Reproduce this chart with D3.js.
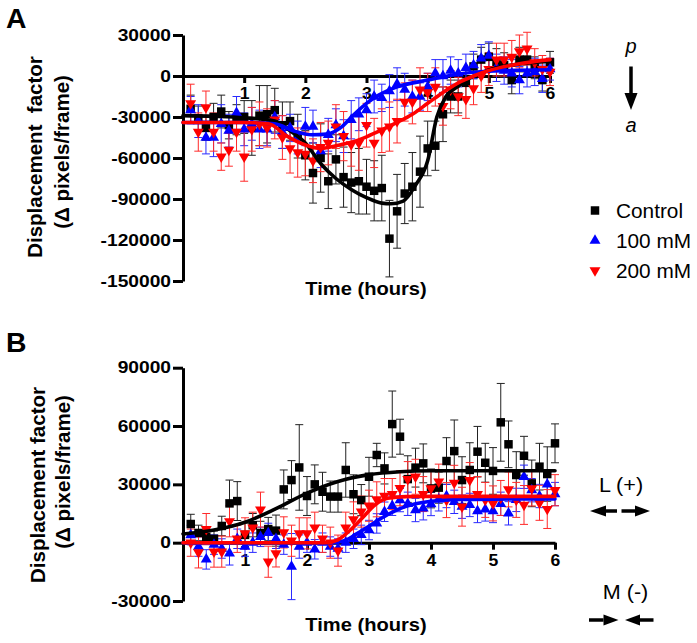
<!DOCTYPE html>
<html><head><meta charset="utf-8">
<script src="https://cdn.jsdelivr.net/npm/d3@7"></script>
<style>body{margin:0;background:#fff}svg{display:block}</style>
</head><body>
<svg id="c" width="697" height="643"></svg>
<script>
// ---------------- data ----------------
const hours = [0.125,0.25,0.375,0.5,0.625,0.75,0.875,1,1.125,1.25,1.375,1.5,1.625,1.75,1.875,2,2.125,2.25,2.375,2.5,2.625,2.75,2.875,3,3.125,3.25,3.375,3.5,3.625,3.75,3.875,4,4.125,4.25,4.375,4.5,4.625,4.75,4.875,5,5.125,5.25,5.375,5.5,5.625,5.75,5.875,6];
const xTicks = [1,2,3,4,5,6];
const yTicksA = [30000,0,-30000,-60000,-90000,-120000,-150000];
const yTicksB = [90000,60000,30000,0,-30000];
const seriesNames = ["Control","100 mM","200 mM"];

// Panel A (p/a displacement)
const aControl = [-24000,-31000,-38000,-30000,-26000,-36000,-32000,-30000,-38000,-29000,-28000,-25000,-36000,-33000,-44000,-58000,-71000,-60000,-77000,-61000,-74000,-78000,-77000,-81000,-84000,-82000,-119000,-99000,-86000,-81000,-70000,-53000,-51000,-28000,-15000,-15000,-5000,7000,12000,14000,10000,8000,-3000,12000,12000,6000,-3000,10000];
const aControlErr = [10000,9000,9000,10000,12000,10000,11000,12000,20000,22000,21000,16000,17000,14000,16000,18000,22000,25000,20000,18000,22000,22000,24000,20000,22000,24000,28000,27000,22000,25000,26000,20000,18000,20000,12000,12000,10000,9000,9000,10000,10000,9000,10000,9000,9000,8000,8000,8000];
const a100 = [-25000,-33000,-45000,-45000,-35000,-40000,-27000,-39000,-35000,-39000,-39000,-30000,-41000,-38000,-45000,-37000,-37000,-55000,-43000,-36000,-44000,-32000,-28000,-25000,-15000,-16000,-11000,-6000,-10000,-15000,-15000,-8000,2000,0,4000,2000,6000,8000,13000,15000,6000,4000,2000,-3000,2000,3000,-2000,5000];
const a100Err = [10000,12000,12000,14000,14000,12000,12000,12000,12000,14000,12000,12000,12000,10000,12000,14000,12000,12000,12000,12000,12000,14000,12000,12000,12000,10000,12000,12000,12000,12000,10000,10000,10000,12000,10000,10000,10000,10000,10000,10000,10000,10000,10000,10000,10000,10000,10000,8000];
const a200 = [-20000,-41000,-23000,-41000,-59000,-54000,-41000,-59000,-39000,-35000,-38000,-32000,-45000,-53000,-56000,-57000,-62000,-52000,-49000,-37000,-44000,-50000,-49000,-36000,-49000,-40000,-37000,-33000,-19000,-19000,-10000,-12000,-8000,-22000,-10000,-15000,-17000,-9000,0,5000,12000,12000,14000,18000,20000,10000,5000,3000];
const a200Err = [14000,14000,12000,14000,10000,12000,14000,18000,16000,16000,14000,14000,16000,18000,18000,16000,16000,18000,16000,16000,18000,16000,20000,16000,18000,16000,18000,16000,14000,16000,16000,14000,14000,14000,14000,14000,14000,12000,12000,12000,12000,12000,12000,12000,12000,10000,10000,10000];

// fitted curves, panel A
const aFitControlT = [0,0.5,1,1.5,1.75,2,2.25,2.5,2.75,3,3.25,3.4,3.6,3.8,4,4.15,4.3,4.5,4.75,5,5.5,6];
const aFitControlV = [-29000,-29500,-30500,-33000,-40000,-49000,-64000,-75000,-83000,-89000,-93000,-93500,-91500,-80000,-62000,-30000,-15000,-7500,0,4500,8800,10700];
const aFit100T = [0,1,1.5,1.8,2.1,2.35,2.6,2.8,3,3.2,3.5,4,4.5,5,6];
const aFit100V = [-34000,-34000,-35000,-40000,-43000,-42500,-37000,-28000,-20000,-14000,-8000,-3000,1500,3500,4600];
const aFit200T = [0,1,1.4,1.7,2,2.25,2.5,2.75,3,3.25,3.5,3.75,4,4.25,4.5,4.75,5,5.5,6];
const aFit200V = [-34000,-34000,-35000,-44000,-50500,-53000,-51000,-48500,-44500,-39500,-34000,-28000,-20000,-12000,-5000,0,4000,9000,12000];

// Panel B (L/M displacement)
const bControl = [9600,5000,3000,2000,8600,20200,21400,4000,9000,5000,7000,6200,27400,32200,38700,24000,30000,26200,23700,23700,37400,24900,21900,33900,45100,38200,61000,54500,32700,38600,40800,27900,28300,42000,47100,32200,37400,46800,41100,36900,61900,50600,34800,44700,30500,39100,35300,51100];
const bControlErr = [5000,4000,4000,4000,5000,12000,10000,6000,6000,6000,6000,8000,10000,10000,22000,10000,10000,10000,8000,8000,14000,10000,8000,10000,6000,8000,17000,9000,12000,10000,10000,10000,8000,12000,16000,12000,14000,13000,10000,12000,20000,12000,12000,10000,12000,12000,14000,10000];
const b100 = [3900,-2000,-8600,-1000,-3000,-5500,2000,-2000,0,3000,5000,2000,-1000,-12300,-2000,0,-3400,0,-2000,-3000,0,2000,4000,6500,9900,15900,19000,21900,20000,16800,17700,19900,22300,24000,21000,18500,19400,16300,17100,16300,20000,15100,22000,33900,27000,24000,30000,25000];
const b100Err = [5000,5000,5000,5000,5000,6000,5000,5000,5000,5000,5000,5000,5000,17000,6000,5000,5000,5000,5000,5000,5000,5000,5000,5000,5000,5000,5000,6000,6000,6000,6000,6000,6000,6000,6000,6000,6000,6000,6000,6000,6000,6000,6000,6000,6000,6000,6000,6000];
const b200 = [0,-5000,7000,-4600,-4600,11000,2000,4800,7700,17000,-9800,-5500,5300,1000,4800,4800,7700,2000,0,-4100,7700,12000,16000,19000,22300,24000,25000,28000,32700,33900,25000,27900,31400,21900,30800,18500,32200,25000,22000,20200,23000,27400,22000,19400,27900,20500,17300,27000];
const b200Err = [7000,8000,8000,8000,8000,8000,7000,8000,8000,9000,8000,7000,8000,8000,8000,8000,8000,7000,8000,8000,8000,9000,8000,8000,9000,9000,8000,9000,9000,9000,9000,9000,9000,9000,9000,10000,9000,9000,9000,9000,9000,9000,9000,10000,9000,9000,10000,8000];

const bFitControlT = [0,0.5,1,1.5,2,2.5,3,3.5,4,5,6];
const bFitControlV = [4500,6500,10500,17500,25500,31500,35000,36500,37000,37000,37000];
const bFit100T = [0,2.4,2.6,2.8,3,3.25,3.5,3.75,4,4.5,5,6];
const bFit100V = [0,0,1000,4500,8500,13500,17500,20000,21300,22200,22400,22500];
const bFit200T = [0,2.3,2.5,2.7,2.9,3.1,3.3,3.6,4,6];
const bFit200V = [0,0,1500,6500,13000,19500,22800,23700,23800,23800];

// ---------------- drawing ----------------
const svg = d3.select("#c");
const FONT = "'Liberation Sans', Arial, Helvetica, sans-serif";
const COLORS = ["#000000", "#0000ff", "#ff0000"];
const ERRCOL = ["#222222", "#2a2aff", "#ff2a2a"];

// widen glyphs horizontally: move the text's x into a transform, then scale x
function widen(sel, f) {
  sel.each(function () {
    const el = d3.select(this);
    const xx = +el.attr("x") || 0;
    const yy = +el.attr("y") || 0;
    el.attr("x", 0).attr("y", 0)
      .attr("transform", `translate(${xx},${yy}) scale(${f},1)`);
  });
}

function drawPanel(cfg) {
  const g = svg.append("g");
  const x = d3.scaleLinear().domain([0, 6]).range([183, cfg.xEnd]);
  const y = d3.scaleLinear().domain(cfg.yDomain).range(cfg.yRange);

  // y axis
  const ya = g.append("g").attr("transform", "translate(183,0)")
    .call(d3.axisLeft(y).tickValues(cfg.yTicks).tickSize(10).tickPadding(2).tickSizeOuter(0).tickFormat(d => String(d)));
  // x axis at y = 0
  const xa = g.append("g").attr("transform", `translate(0,${y(0)})`)
    .call(d3.axisBottom(x).tickValues(xTicks).tickSize(7).tickPadding(5).tickSizeOuter(0).tickFormat(d => String(d)));
  [ya, xa].forEach(a => {
    a.select(".domain").attr("stroke", "#000").attr("stroke-width", 3);
    a.selectAll(".tick line").attr("stroke", "#000").attr("stroke-width", 3);
    a.selectAll("text").attr("fill", "#000").attr("font-family", FONT).attr("font-weight", "bold");
  });
  ya.selectAll("text").attr("font-size", 16);
  widen(ya.selectAll("text"), 1.2);
  xa.selectAll("text").attr("font-size", 16);
  widen(xa.selectAll("text"), 1.1);

  // series
  const series = cfg.series;
  const capW = 4;
  series.forEach((s, si) => {
    const eg = g.append("g").attr("stroke", ERRCOL[si]).attr("stroke-width", 1).attr("fill", "none");
    hours.forEach((t, i) => {
      const cx = x(t), v = s.v[i], e = s.e[i];
      const y1 = y(v + e), y2 = y(v - e);
      eg.append("line").attr("x1", cx).attr("x2", cx).attr("y1", y1).attr("y2", y2);
      eg.append("line").attr("x1", cx - capW).attr("x2", cx + capW).attr("y1", y1).attr("y2", y1);
      eg.append("line").attr("x1", cx - capW).attr("x2", cx + capW).attr("y1", y2).attr("y2", y2);
    });
  });
  series.forEach((s, si) => {
    const sym = si === 0 ? d3.symbol().type(d3.symbolSquare).size(72)
                         : d3.symbol().type(d3.symbolTriangle).size(52);
    g.append("g").selectAll("path").data(hours).join("path")
      .attr("d", sym)
      .attr("fill", COLORS[si])
      .attr("transform", (t, i) => `translate(${x(t)},${y(s.v[i])})` + (si === 2 ? " rotate(180)" : ""));
  });
  // fitted curves
  series.forEach((s, si) => {
    const pts = s.fitT.map((t, i) => [t, s.fitV[i]]);
    g.append("path").datum(pts)
      .attr("d", d3.line().x(d => x(d[0])).y(d => y(d[1])).curve(d3.curveMonotoneX))
      .attr("fill", "none").attr("stroke", COLORS[si]).attr("stroke-width", 3.6)
      .attr("stroke-linecap", "round");
  });

  // titles
  const tt = g.append("text").attr("x", 366).attr("y", cfg.xTitleY).attr("text-anchor", "middle")
    .attr("font-family", FONT).attr("font-weight", "bold").attr("font-size", 19)
    .text("Time (hours)");
  widen(tt, 1.06);
  g.append("text").attr("transform", `translate(${cfg.yt1x},${cfg.yt1c}) rotate(-90)`).attr("text-anchor", "middle")
    .attr("font-family", FONT).attr("font-weight", "bold").attr("font-size", 20.5)
    .attr("dy", "0.35em").attr("xml:space", "preserve").text(cfg.yTitle1);
  g.append("text").attr("transform", `translate(${cfg.yt2x},${cfg.yt2c}) rotate(-90)`).attr("text-anchor", "middle")
    .attr("font-family", FONT).attr("font-weight", "bold").attr("font-size", 20.5)
    .attr("dy", "0.35em").text("(\u0394 pixels/frame)");
  const lt = g.append("text").attr("x", 6).attr("y", cfg.letterY)
    .attr("font-family", FONT).attr("font-weight", "bold").attr("font-size", 27).text(cfg.letter);
  widen(lt, 1.05);
  return g;
}

drawPanel({
  letter: "A", letterY: 28, xEnd: 550,
  yDomain: [-150000, 30000], yRange: [281, 35], yTicks: yTicksA,
  xTitleY: 295, yTitle1: "Displacement  factor", yt1x: 35, yt1c: 157, yt2x: 62, yt2c: 152,
  series: [
    { v: aControl, e: aControlErr, fitT: aFitControlT, fitV: aFitControlV },
    { v: a100, e: a100Err, fitT: aFit100T, fitV: aFit100V },
    { v: a200, e: a200Err, fitT: aFit200T, fitV: aFit200V }
  ]
});
drawPanel({
  letter: "B", letterY: 352, xEnd: 555,
  yDomain: [-30000, 90000], yRange: [601, 367.7], yTicks: yTicksB,
  xTitleY: 631, yTitle1: "Displacement factor", yt1x: 38, yt1c: 485, yt2x: 63, yt2c: 472,
  series: [
    { v: bControl, e: bControlErr, fitT: bFitControlT, fitV: bFitControlV },
    { v: b100, e: b100Err, fitT: bFit100T, fitV: bFit100V },
    { v: b200, e: b200Err, fitT: bFit200T, fitV: bFit200V }
  ]
});

// legend
const legY = [210.5, 240.5, 270.5];
seriesNames.forEach((name, i) => {
  const sym = i === 0 ? d3.symbol().type(d3.symbolSquare).size(72)
                      : d3.symbol().type(d3.symbolTriangle).size(52);
  svg.append("path").attr("d", sym).attr("fill", COLORS[i])
    .attr("transform", `translate(595,${legY[i]})` + (i === 2 ? " rotate(180)" : ""));
  const t = svg.append("text").attr("x", 616).attr("y", legY[i] + 7)
    .attr("font-family", FONT).attr("font-size", 20).text(name);
  widen(t, 1.04);
});

// orientation annotations
function txt(xp, yp, s, italic) {
  return svg.append("text").attr("x", xp).attr("y", yp).attr("text-anchor", "middle")
    .attr("font-family", FONT).attr("font-size", 20).attr("font-style", italic ? "italic" : "normal").text(s);
}
function arrow(x1, x2, yc, headLen, halfW, shaft) {
  const dir = Math.sign(x2 - x1);
  const hb = x2 - dir * headLen;
  svg.append("line").attr("x1", x1).attr("x2", hb).attr("y1", yc).attr("y2", yc)
    .attr("stroke", "#000").attr("stroke-width", shaft);
  svg.append("path").attr("d", `M${x2},${yc}L${hb},${yc - halfW}L${hb},${yc + halfW}Z`).attr("fill", "#000");
}
txt(631, 53, "p", true);
svg.append("line").attr("x1", 631).attr("x2", 631).attr("y1", 66.5).attr("y2", 94)
  .attr("stroke", "#000").attr("stroke-width", 3.5);
svg.append("path").attr("d", "M631,110L624.5,93L637.5,93Z").attr("fill", "#000");
txt(631, 131.5, "a", true);

widen(txt(621, 491.5, "L (+)", false), 1.08);
arrow(617, 590, 511, 16, 5.5, 3.5);
arrow(621.5, 650, 511, 15, 5.5, 3.5);
widen(txt(625.5, 598.5, "M (-)", false), 1.08);
arrow(589, 618.5, 620, 15, 5.5, 3.5);
arrow(653.5, 625, 620, 15, 5.5, 3.5);
</script>
</body></html>
